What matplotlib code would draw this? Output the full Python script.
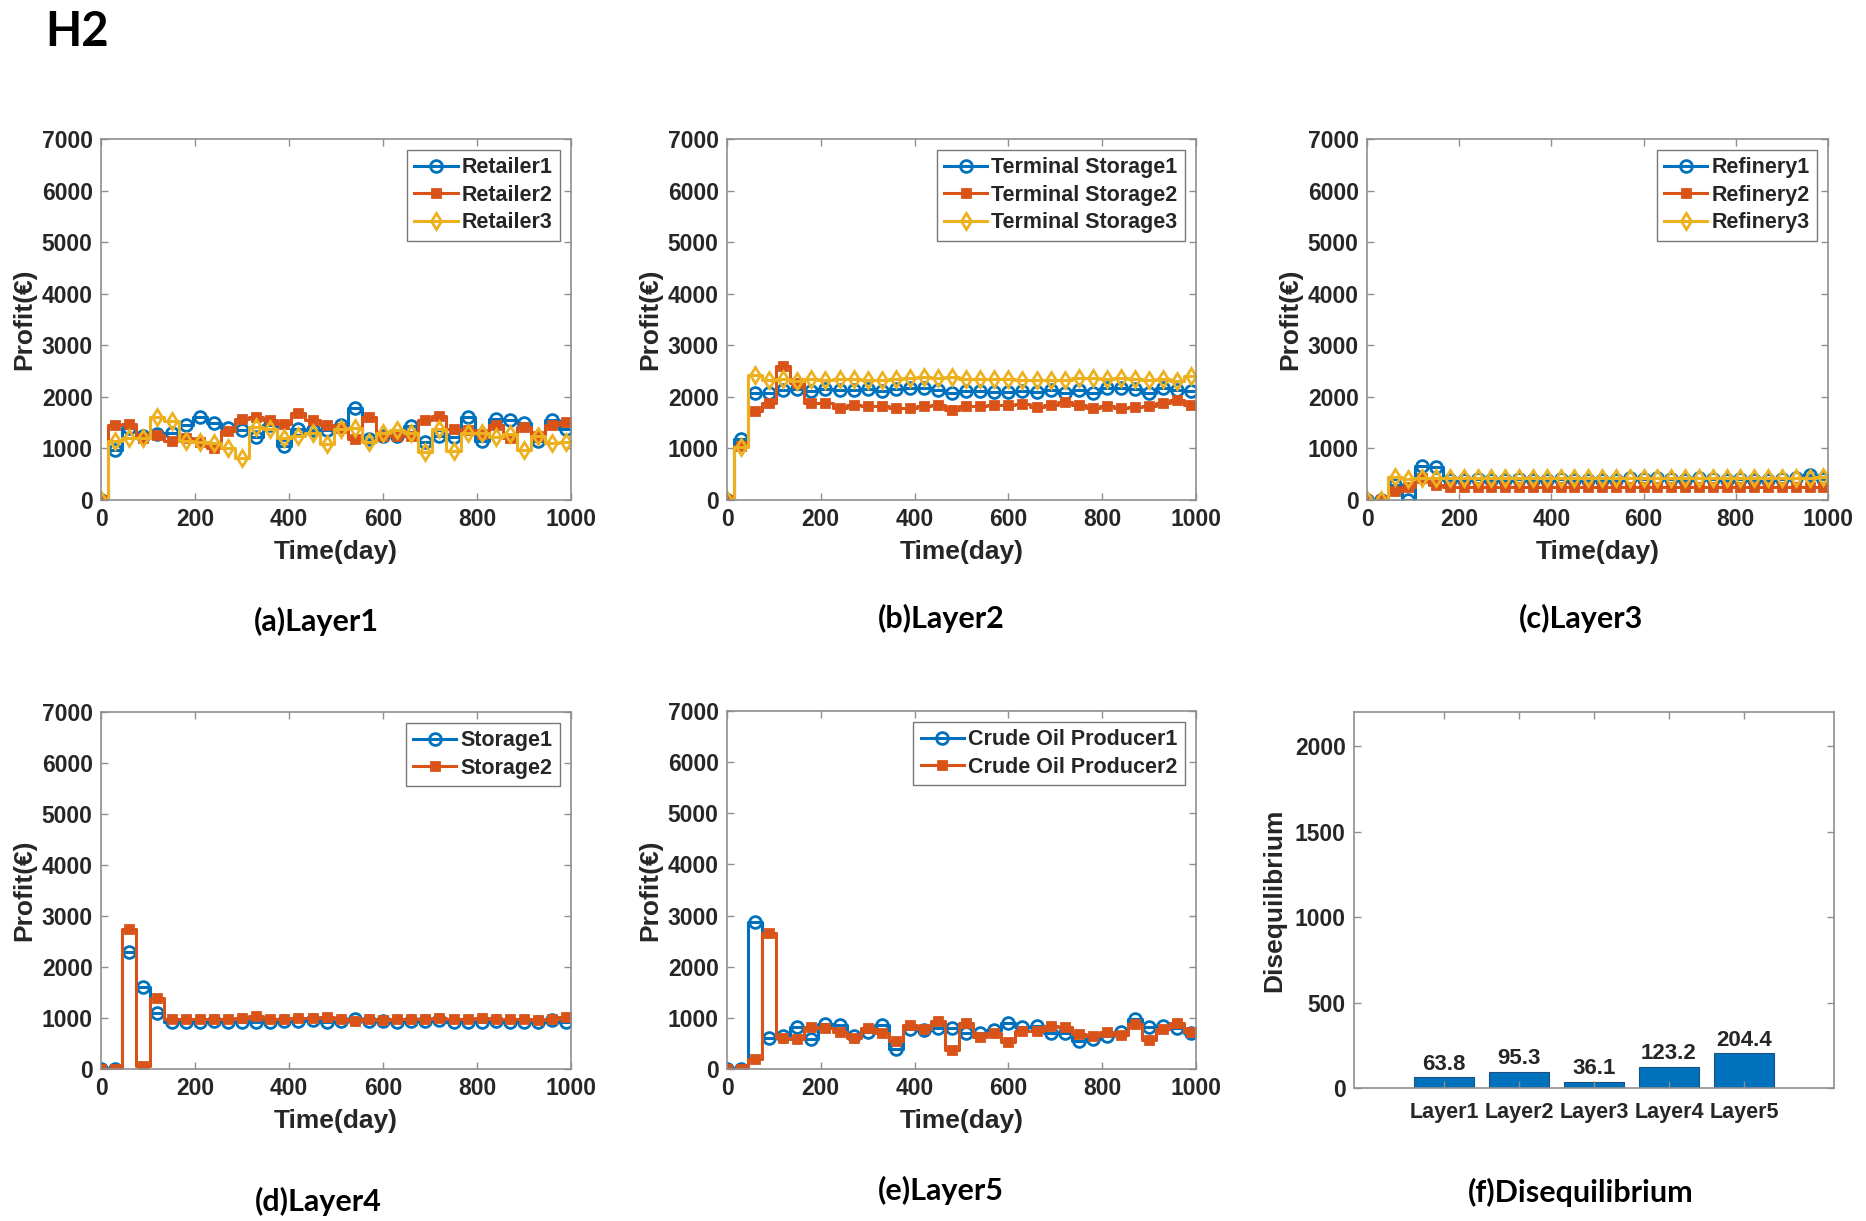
import numpy as np
import matplotlib
matplotlib.use("Agg")
import matplotlib.pyplot as plt

# ---------------- data ----------------
days = list(range(0, 1000, 30))  # marker days 0..990
x_end = 1000

retailer1 = [0, 970, 1400, 1250, 1280, 1300, 1450, 1600, 1500, 1400, 1350, 1230, 1450, 1050,
             1380, 1350, 1350, 1450, 1780, 1180, 1250, 1250, 1430, 1130, 1250, 1230, 1600, 1150,
             1580, 1550, 1500, 1150, 1560, 1380]
retailer2 = [0, 1450, 1480, 1200, 1270, 1150, 1200, 1130, 1000, 1330, 1580, 1600, 1550, 1480,
             1680, 1550, 1450, 1400, 1180, 1600, 1250, 1250, 1250, 1550, 1620, 1380, 1350, 1280,
             1450, 1200, 1420, 1250, 1450, 1520]
retailer3 = [0, 1150, 1200, 1200, 1600, 1530, 1150, 1120, 1100, 1000, 820, 1420, 1380, 1200,
             1250, 1300, 1080, 1380, 1400, 1120, 1300, 1350, 1300, 930, 1380, 950, 1300, 1300,
             1220, 1280, 970, 1250, 1100, 1120]

terminal1 = [0, 1180, 2080, 2080, 2130, 2150, 2120, 2150, 2130, 2130, 2150, 2120, 2150, 2170,
             2180, 2130, 2080, 2120, 2120, 2100, 2100, 2120, 2100, 2130, 2080, 2130, 2080, 2170,
             2180, 2150, 2080, 2170, 2130, 2120]
terminal2 = [0, 1050, 1720, 1880, 2600, 2270, 1880, 1880, 1780, 1850, 1830, 1820, 1780, 1780,
             1820, 1850, 1750, 1820, 1820, 1850, 1850, 1870, 1800, 1850, 1900, 1850, 1780, 1820,
             1780, 1800, 1830, 1880, 1930, 1850]
terminal3 = [0, 1030, 2430, 2330, 2350, 2300, 2350, 2330, 2350, 2350, 2320, 2330, 2350, 2370,
             2380, 2370, 2380, 2350, 2350, 2350, 2350, 2330, 2330, 2320, 2330, 2370, 2370, 2350,
             2370, 2350, 2330, 2350, 2300, 2400]

refinery1 = [0, 0, 300, 0, 650, 640, 380, 390, 400, 380, 390, 400, 380, 390, 400, 380, 390,
             380, 390, 430, 400, 420, 400, 390, 430, 400, 390, 400, 390, 380, 400, 420, 480, 400]
refinery2 = [0, 0, 170, 250, 420, 300, 250, 250, 250, 250, 250, 250, 250, 250, 250, 250, 250,
             250, 250, 250, 250, 250, 250, 250, 250, 250, 250, 250, 250, 250, 250, 250, 250, 250]
refinery3 = [0, 0, 450, 400, 430, 420, 420, 420, 420, 420, 420, 420, 420, 420, 420, 420, 420,
             420, 420, 420, 420, 420, 420, 420, 420, 420, 420, 420, 420, 420, 420, 420, 420, 440]

storage1 = [0, 0, 2300, 1600, 1100, 930, 930, 930, 950, 920, 920, 920, 930, 950, 950, 960, 920,
            940, 980, 940, 950, 920, 940, 950, 960, 930, 930, 920, 950, 930, 930, 920, 960, 930]
storage2 = [0, 0, 2750, 50, 1400, 980, 990, 990, 980, 990, 1000, 1030, 990, 990, 1000, 1000,
            1020, 990, 950, 990, 970, 980, 990, 980, 1000, 980, 990, 1000, 990, 980, 980, 960,
            990, 1010]

producer1 = [0, 0, 2870, 600, 650, 820, 580, 880, 870, 650, 730, 870, 400, 780, 760, 800, 800,
             700, 700, 770, 900, 830, 850, 700, 700, 550, 580, 650, 720, 980, 820, 850, 800, 700]
producer2 = [0, 0, 200, 2650, 600, 580, 820, 800, 720, 600, 800, 700, 550, 870, 780, 930, 370,
             900, 630, 700, 530, 750, 750, 850, 830, 680, 650, 720, 670, 880, 570, 780, 900, 720]

layers = ["Layer1", "Layer2", "Layer3", "Layer4", "Layer5"]
disequilibrium = [63.8, 95.3, 36.1, 123.2, 204.4]

# ---------------- style ----------------
C_BLUE, C_ORANGE, C_YELLOW = "#0072BD", "#D95319", "#EDB120"
TXT = "#262626"
SPINE = "#8f8f8f"
AX_FONT = "Liberation Sans"
CAP_FONT = "Lato"

plt.rcParams["font.family"] = [AX_FONT, "DejaVu Sans"]
plt.rcParams["font.weight"] = "bold"

W, H = 1866, 1221
fig = plt.figure(figsize=(W / 100, H / 100), dpi=100)


def rect(x0, y0, x1, y1):
    return [x0 / W, 1 - y1 / H, (x1 - x0) / W, (y1 - y0) / H]


def style_axes(ax):
    for s in ax.spines.values():
        s.set_color(SPINE)
        s.set_linewidth(1.2)
    ax.tick_params(direction="in", length=5, width=1.0, color=SPINE,
                   top=True, right=True, labelsize=16.5, labelcolor=TXT, pad=6)
    for lab in ax.get_xticklabels() + ax.get_yticklabels():
        lab.set_fontweight("bold")


marker_styles = [("o", 8.5), ("s", 5.5), ("d", 8.5)]
colors = [C_BLUE, C_ORANGE, C_YELLOW]


def line_panel(pos, series, names):
    ax = fig.add_axes(pos)
    x = np.array(days + [x_end])
    n = len(days)
    for i, (y, name) in enumerate(zip(series, names)):
        yy = np.array(list(y) + [y[-1]])
        mk, ms = marker_styles[i]
        ax.plot(x, yy, drawstyle="steps-mid", color=colors[i], lw=2.2,
                marker=mk, ms=ms, mfc="none" if mk != "s" else colors[i],
                mec=colors[i], mew=2.0, markevery=list(range(n)), label=name)
    ax.set_xlim(0, 1000)
    ax.set_ylim(0, 7000)
    ax.set_xticks(range(0, 1001, 200))
    ax.set_yticks(range(0, 7001, 1000))
    ax.set_xlabel("Time(day)", fontsize=19, fontweight="bold", color=TXT, labelpad=6)
    ax.set_ylabel("Profit(€)", fontsize=19, fontweight="bold", color=TXT, labelpad=4)
    style_axes(ax)
    leg = ax.legend(loc="upper right", fontsize=15.5, frameon=True, fancybox=False,
                    handlelength=2.0, handletextpad=0.2, borderpad=0.35,
                    labelspacing=0.3, borderaxespad=0.5)
    leg.get_frame().set_edgecolor("#555555")
    leg.get_frame().set_linewidth(1.0)
    for t in leg.get_texts():
        t.set_color(TXT)
        t.set_fontweight("bold")
    return ax


line_panel(rect(101, 139, 571, 500), [retailer1, retailer2, retailer3],
           ["Retailer1", "Retailer2", "Retailer3"])
line_panel(rect(727, 139, 1196, 500), [terminal1, terminal2, terminal3],
           ["Terminal Storage1", "Terminal Storage2", "Terminal Storage3"])
line_panel(rect(1367, 139, 1828, 500), [refinery1, refinery2, refinery3],
           ["Refinery1", "Refinery2", "Refinery3"])
line_panel(rect(101, 712, 571, 1069), [storage1, storage2],
           ["Storage1", "Storage2"])
line_panel(rect(727, 711, 1196, 1069), [producer1, producer2],
           ["Crude Oil Producer1", "Crude Oil Producer2"])

# bar panel
axf = fig.add_axes(rect(1354, 712, 1834, 1088))
pos = np.arange(1, len(layers) + 1)
bars = axf.bar(pos, disequilibrium, width=0.8, color=C_BLUE, edgecolor="#1d4f80", linewidth=0.8)
for b, v in zip(bars, disequilibrium):
    axf.text(b.get_x() + b.get_width() / 2, v + 15, f"{v:.1f}", ha="center", va="bottom",
             fontsize=16, fontweight="bold", color=TXT)
axf.set_xlim(-0.2, 6.2)
axf.set_ylim(0, 2200)
axf.set_xticks(pos)
axf.set_xticklabels(layers)
axf.set_yticks(range(0, 2001, 500))
axf.set_ylabel("Disequilibrium", fontsize=19, fontweight="bold", color=TXT, labelpad=6)
style_axes(axf)
axf.tick_params(axis="x", labelsize=15.5, pad=10)

# captions
caps = [("(a)Layer1", 316, 621), ("(b)Layer2", 941, 618), ("(c)Layer3", 1581, 618),
        ("(d)Layer4", 318, 1201), ("(e)Layer5", 941, 1190), ("(f)Disequilibrium", 1581, 1192)]
for t, cx, cy in caps:
    fig.text(cx / W, 1 - cy / H, t, ha="center", va="center", fontsize=22,
             fontweight="bold", family=[CAP_FONT, "DejaVu Sans"], color="black")

fig.text(45 / W, 1 - 32 / H, "H2", ha="left", va="center", fontsize=34,
         fontweight="bold", family=[CAP_FONT, "DejaVu Sans"], color="black")

fig.savefig("out.png", dpi=100, facecolor="white")
